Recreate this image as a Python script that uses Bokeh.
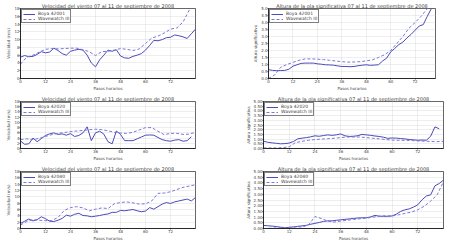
from bokeh.plotting import figure
from bokeh.layouts import column, row
from bokeh.models import Range1d, FixedTicker, NumeralTickFormatter, Legend, LegendItem
from bokeh.embed import file_html
from bokeh.resources import INLINE

FONT = "DejaVu Sans"

# ---- data -------------------------------------------------------------
hours_buoy = list(range(0, 85, 2))
hours_model = list(range(0, 85, 3))
x_ticks = [0, 12, 24, 36, 48, 60, 72]
wind_ticks = [0, 2, 4, 6, 8, 10, 12, 14, 16, 18]
wave_ticks = [0.0, 0.5, 1.0, 1.5, 2.0, 2.5, 3.0, 3.5, 4.0, 4.5, 5.0]

wind_title = "Velocidad del viento 07 al 11 de septiembre de 2008"
wave_title = "Altura de la ola significativa 07 al 11 de septiembre de 2008"
x_label = "Pasos horarios"
wind_ylabel = "Velocidad (m/s)"
wave_ylabel = "Altura significativa"
model_label = "Wavewatch III"

buoy_names = ["Boya 42001", "Boya 42020", "Boya 42040"]

wind_42001_buoy = [5.5, 5.9, 5.6, 5.7, 6.2, 6.9, 6.6, 6.8, 7.8, 7.2, 6.4, 6.0, 7.0, 7.3, 7.5,
                   7.3, 6.0, 4.0, 3.0, 4.8, 6.0, 7.3, 7.0, 7.4, 5.8, 5.3, 5.2, 5.7, 6.0, 6.4,
                   7.3, 8.5, 9.8, 9.7, 10.0, 10.5, 10.6, 11.2, 11.0, 10.7, 10.3, 11.5, 12.7]
wind_42001_model = [3.7, 5.5, 6.0, 6.8, 7.5, 7.7, 7.6, 7.7, 7.8, 7.8, 7.4, 6.9, 5.9, 6.9, 7.0,
                    7.3, 7.7, 7.5, 7.2, 7.6, 9.0, 10.4, 10.9, 11.7, 12.7, 13.0, 14.5, 17.6, 20.5]

wave_42001_buoy = [0.63, 0.58, 0.56, 0.57, 0.58, 0.66, 0.88, 0.98, 1.08, 1.10, 1.10, 1.10, 1.05,
                   1.02, 0.98, 0.97, 0.95, 0.90, 0.86, 0.86, 0.84, 0.86, 0.91, 0.95, 0.98, 0.94,
                   0.96, 0.98, 1.25, 1.45, 1.90, 2.15, 2.42, 2.60, 2.90, 3.15, 3.45, 3.75, 3.85,
                   4.45, 5.0]
wave_42001_model = [0.0, 0.25, 0.80, 1.0, 1.15, 1.3, 1.4, 1.4, 1.38, 1.35, 1.3, 1.25, 1.2, 1.17,
                    1.18, 1.2, 1.26, 1.33, 1.5, 1.7, 2.0, 2.5, 3.0, 3.6, 4.0, 4.45, 5.0, 5.4]

wind_42020_buoy = [2.9, 1.6, 1.8, 4.0, 2.6, 3.8, 5.0, 5.6, 6.0, 5.4, 5.6, 5.1, 5.7, 4.6, 5.0,
                   6.0, 8.3, 3.0, 6.0, 6.6, 5.5, 2.6, 1.8, 6.7, 5.4, 3.0, 3.0, 3.0, 3.7, 4.4,
                   5.1, 5.2, 5.1, 4.2, 3.4, 3.0, 2.8, 3.2, 3.4, 2.8, 3.0, 4.5]
wind_42020_model = [3.4, 3.7, 3.4, 3.9, 4.6, 5.3, 5.8, 6.1, 6.5, 6.7, 6.9, 7.2, 7.4, 7.2, 6.8,
                    6.2, 5.9, 5.8, 6.2, 7.1, 8.0, 8.0, 6.6, 5.3, 5.8, 5.8, 5.4, 5.5, 6.2]

wave_42020_buoy = [0.78, 0.66, 0.60, 0.55, 0.50, 0.52, 0.58, 0.75, 1.03, 1.10, 1.16, 1.24, 1.35,
                   1.30, 1.38, 1.45, 1.40, 1.45, 1.55, 1.35, 1.28, 1.30, 1.36, 1.50, 1.45, 1.40,
                   1.33, 1.28, 1.20, 1.08, 1.12, 1.10, 1.06, 1.02, 0.96, 0.92, 0.88, 0.90, 0.88,
                   1.3, 2.3, 2.1]
wave_42020_model = [0.06, 0.06, 0.06, 0.10, 0.18, 0.64, 0.76, 0.88, 0.95, 1.00, 1.04, 1.09, 1.16,
                    1.22, 1.22, 1.22, 1.16, 1.09, 1.03, 0.95, 0.89, 0.87, 0.87, 0.85, 0.80, 0.78,
                    0.75, 0.73, 0.76]

wind_42040_buoy = [1.6, 2.3, 3.0, 2.4, 2.8, 3.7, 3.1, 2.3, 2.2, 2.6, 3.2, 4.2, 3.9, 4.5, 4.8,
                   4.1, 4.0, 3.7, 3.9, 4.1, 4.4, 4.6, 5.1, 5.1, 5.7, 5.6, 5.8, 6.0, 5.6, 5.3,
                   5.5, 6.6, 6.1, 6.9, 7.7, 8.2, 7.9, 8.4, 8.7, 9.0, 9.3, 8.7, 9.8]
wind_42040_model = [1.1, 2.2, 2.8, 2.6, 2.5, 2.5, 3.5, 5.7, 6.6, 6.9, 6.5, 5.6, 6.1, 6.5, 6.3,
                    7.8, 8.2, 8.4, 8.1, 7.7, 7.8, 8.7, 11.1, 11.2, 11.6, 12.3, 13.0, 13.4, 13.8]

wave_42040_buoy = [0.27, 0.24, 0.21, 0.17, 0.11, 0.08, 0.10, 0.14, 0.19, 0.23, 0.28, 0.37, 0.45,
                   0.53, 0.62, 0.67, 0.67, 0.72, 0.76, 0.80, 0.84, 0.88, 0.92, 0.94, 0.94, 1.02,
                   1.15, 1.08, 1.07, 1.07, 1.10, 1.26, 1.50, 1.64, 1.72, 1.88, 2.08, 2.52, 2.85,
                   2.95, 3.74, 3.95, 4.25]
wave_42040_model = [0.0, 0.02, 0.05, 0.08, 0.10, 0.13, 0.14, 0.30, 1.05, 0.88, 0.65, 0.56, 0.65,
                    0.72, 0.79, 0.85, 0.91, 0.99, 1.08, 1.12, 1.10, 1.20, 1.32, 1.44, 1.64, 1.95,
                    2.40, 2.95, 4.1]

# ---- styling ----------------------------------------------------------
BUOY_COLOR = "#4a4ab8"
MODEL_COLOR = "#7878d8"


def panel(title, ylabel, buoy_label, buoy, model, y_max, y_ticks, y_fmt, x_max,
          width, height, bl, br):
    p = figure(width=width, height=height, output_backend="svg", toolbar_location=None,
               x_range=Range1d(0, x_max), y_range=Range1d(0, y_max),
               min_border_left=bl, min_border_right=br, min_border_top=0,
               min_border_bottom=0)
    p.title.text = title
    p.title.text_font = FONT
    p.title.text_font_size = "5px"
    p.title.text_font_style = "normal"
    p.title.align = "center"
    p.title.standoff = 0
    p.title.offset = 0

    r1 = p.line(hours_buoy[:len(buoy)], buoy, line_color=BUOY_COLOR, line_width=1)
    r2 = p.line(hours_model[:len(model)], model, line_color=MODEL_COLOR, line_width=1,
                line_dash="3 2")

    p.xaxis.ticker = FixedTicker(ticks=x_ticks)
    p.yaxis.ticker = FixedTicker(ticks=y_ticks)
    p.yaxis.formatter = NumeralTickFormatter(format=y_fmt)
    p.xaxis.axis_label = x_label
    p.yaxis.axis_label = ylabel
    for ax in (p.xaxis, p.yaxis):
        ax.axis_label_text_font = FONT
        ax.axis_label_text_font_size = "4px"
        ax.axis_label_text_font_style = "normal"
        ax.axis_label_standoff = 0
        ax.major_label_text_font = FONT
        ax.major_label_text_font_size = "4px"
        ax.major_label_standoff = 0
        ax.major_tick_out = 1
        ax.major_tick_in = 0
        ax.minor_tick_out = 0
        ax.minor_tick_in = 0
        ax.axis_line_color = "black"
        ax.axis_line_width = 0.6
        ax.major_tick_line_width = 0.6
    p.grid.grid_line_color = "#c8c8c8"
    p.grid.grid_line_dash = "1 1"
    p.grid.grid_line_width = 0.6
    p.outline_line_color = "black"
    p.outline_line_width = 0.6
    p.outline_line_alpha = 1

    leg = Legend(items=[LegendItem(label=buoy_label, renderers=[r1]),
                        LegendItem(label=model_label, renderers=[r2])],
                 location="top_left")
    leg.label_text_font = FONT
    leg.label_text_font_size = "4.5px"
    leg.label_height = 4
    leg.label_standoff = 3
    leg.glyph_height = 4
    leg.glyph_width = 12
    leg.spacing = 0
    leg.padding = 1
    leg.margin = 1
    leg.border_line_color = "black"
    leg.border_line_width = 0.6
    leg.background_fill_alpha = 1
    p.add_layout(leg)
    return p


p1 = panel(wind_title, wind_ylabel, buoy_names[0], wind_42001_buoy, wind_42001_model,
           18, wind_ticks, "0", 84, 225, 93, 20, 30)
p2 = panel(wave_title, wave_ylabel, buoy_names[0], wave_42001_buoy, wave_42001_model,
           5, wave_ticks, "0.0", 82, 225, 93, 43, 15)
p3 = panel(wind_title, wind_ylabel, buoy_names[1], wind_42020_buoy, wind_42020_model,
           18, wind_ticks, "0", 84, 225, 70, 20, 30)
p4 = panel(wave_title, wave_ylabel, buoy_names[1], wave_42020_buoy, wave_42020_model,
           5, wave_ticks, "0.00", 84, 225, 70, 38, 7)
p5 = panel(wind_title, wind_ylabel, buoy_names[2], wind_42040_buoy, wind_42040_model,
           18, wind_ticks, "0", 84, 225, 80, 20, 30)
p6 = panel(wave_title, wave_ylabel, buoy_names[2], wave_42040_buoy, wave_42040_model,
           5, wave_ticks, "0.00", 84, 225, 80, 38, 7)

layout = column(row(p1, p2), row(p3, p4), row(p5, p6))

open("out.html", "w").write(file_html(layout, INLINE))
